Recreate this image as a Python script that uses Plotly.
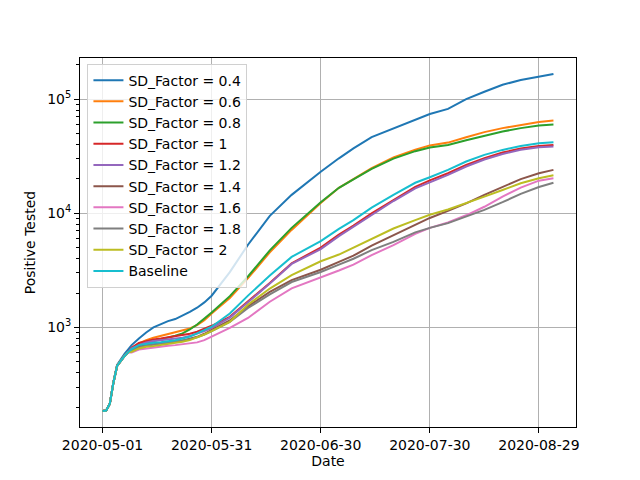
import pandas as pd
import plotly.graph_objects as go

# days since 2020-05-01
days = [0, 1, 2, 3, 4, 5, 6, 7, 8, 10, 12, 14, 16, 18, 20, 22, 24, 26, 28, 30,
        35, 40, 46, 52, 60, 65, 69, 74, 80, 86, 90, 95, 100, 105, 110, 115, 120, 124]

start = [185, 187, 215, 330, 460, 510, 560, 605]

sd_04 = [185, 187, 215, 335, 470, 530, 585, 640,
         700, 801, 904, 1000, 1062, 1136, 1184, 1266, 1371, 1488, 1657, 1896,
         3050, 5300, 9500, 14500, 23100, 30300, 37000, 46500, 55300, 66000, 74000, 82000,
         100000, 116000, 133500, 147000, 157500, 166000]
sd_06 = start + [655, 724, 774, 812, 845, 874, 904, 942, 980, 1048, 1159, 1327,
                 1810, 2700, 4550, 7150, 12300, 16700, 20000, 24800, 30800, 36000, 39300, 41600,
                 46400, 51400, 55700, 59600, 62900, 64900]
sd_08 = start + [645, 700, 738, 759, 785, 812, 845, 886, 960, 1062, 1199, 1354,
                 1880, 2800, 4730, 7450, 12500, 16700, 19800, 24500, 30100, 35000, 37600, 39700,
                 43600, 47600, 52000, 55700, 58600, 59900]
sd_1 = start + [663, 733, 764, 785, 801, 817, 834, 857, 880, 916, 967, 1034,
                1240, 1680, 2450, 3650, 5000, 6500, 7800, 10000, 13100, 17000, 19400, 22400,
                26500, 30400, 34000, 36900, 38900, 39700]
sd_12 = start + [655, 700, 740, 760, 772, 783, 790, 812, 840, 880, 930, 985,
                 1220, 1660, 2420, 3600, 4850, 6300, 7600, 9700, 12800, 16500, 18600, 21700,
                 25700, 29600, 33100, 36000, 37900, 38500]
sd_14 = start + [630, 677, 700, 715, 728, 738, 748, 765, 795, 828, 880, 948,
                 1150, 1530, 2050, 2600, 3200, 3750, 4250, 5200, 6410, 7900, 9100, 10500,
                 12200, 14500, 17100, 19900, 22400, 24000]
sd_16 = start + [604, 641, 655, 668, 680, 690, 700, 712, 724, 740, 774, 828,
                 990, 1210, 1680, 2200, 2730, 3150, 3550, 4300, 5250, 6600, 7450, 8300,
                 9600, 11400, 14000, 16800, 19300, 20300]
sd_18 = start + [625, 668, 690, 705, 718, 730, 748, 765, 790, 820, 865, 929,
                 1120, 1480, 1950, 2500, 3060, 3550, 4000, 4750, 5610, 6800, 7450, 8200,
                 9300, 10700, 12500, 14800, 17000, 18500]
sd_2 = start + [612, 655, 677, 686, 700, 709, 724, 748, 774, 817, 868, 929,
                1120, 1580, 2190, 2870, 3800, 4350, 5000, 6000, 7350, 8700, 9700, 10800,
                12200, 14000, 16000, 18300, 20300, 21500]
baseline = start + [645, 700, 719, 733, 743, 754, 774, 801, 834, 886, 942, 1014,
                    1325, 1900, 2850, 4150, 5700, 7300, 8700, 11200, 14500, 18500, 20700, 24000,
                    28400, 32500, 35900, 38900, 41100, 41900]

names = ["SD_Factor = 0.4", "SD_Factor = 0.6", "SD_Factor = 0.8", "SD_Factor = 1",
         "SD_Factor = 1.2", "SD_Factor = 1.4", "SD_Factor = 1.6", "SD_Factor = 1.8",
         "SD_Factor = 2", "Baseline"]
series = [sd_04, sd_06, sd_08, sd_1, sd_12, sd_14, sd_16, sd_18, sd_2, baseline]
colors = ["#1f77b4", "#ff7f0e", "#2ca02c", "#d62728", "#9467bd",
          "#8c564b", "#e377c2", "#7f7f7f", "#bcbd22", "#17becf"]

tick_dates = ["2020-05-01", "2020-05-31", "2020-06-30", "2020-07-30", "2020-08-29"]

dates = pd.Timestamp("2020-05-01") + pd.to_timedelta(days, unit="D")

fig = go.Figure()
for nm, ys, c in zip(names, series, colors):
    fig.add_trace(go.Scatter(x=dates, y=ys, name=nm, mode="lines",
                             line=dict(color=c, width=2)))

minor_vals = [m * 10 ** e for e in (2, 3, 4) for m in range(2, 10)] + [200000]

fig.update_layout(
    width=640, height=480,
    margin=dict(l=80, r=64, t=58, b=53),
    paper_bgcolor="white", plot_bgcolor="white",
    font=dict(family="DejaVu Sans", size=14, color="black"),
    legend=dict(x=0.015, y=0.985, xanchor="left", yanchor="top",
                bgcolor="rgba(255,255,255,0.8)", bordercolor="#d0d0d0", borderwidth=1,
                font=dict(size=14)),
)
fig.update_xaxes(
    range=["2020-04-24 19:12", "2020-09-08 04:48"],
    tickvals=tick_dates, ticktext=tick_dates,
    ticks="outside", ticklen=5, tickwidth=1, tickcolor="black",
    tickfont=dict(size=14),
    showline=True, linecolor="black", linewidth=1, mirror=True,
    showgrid=True, gridcolor="#b0b0b0", gridwidth=1,
    title=dict(text="Date", standoff=4, font=dict(size=14)),
    zeroline=False, automargin=False,
)
fig.update_yaxes(
    type="log", range=[2.128, 5.36],
    tickvals=[1000, 10000, 100000],
    ticktext=["10<sup>3</sup>", "10<sup>4</sup>", "10<sup>5</sup>"],
    ticks="outside", ticklen=5, tickwidth=1, tickcolor="black",
    tickfont=dict(size=14),
    minor=dict(tickvals=minor_vals, ticks="outside", ticklen=3, tickwidth=0.8,
               tickcolor="black", showgrid=False),
    showline=True, linecolor="black", linewidth=1, mirror=True,
    showgrid=True, gridcolor="#b0b0b0", gridwidth=1,
    title=dict(text="Positive Tested", standoff=8, font=dict(size=14)),
    zeroline=False, automargin=False,
)

# page body has an 8px default margin; drop it so the chart sits at the window corner
fig.write_html("out.html", config={"displayModeBar": False},
               post_script="document.body.style.margin='0';")
